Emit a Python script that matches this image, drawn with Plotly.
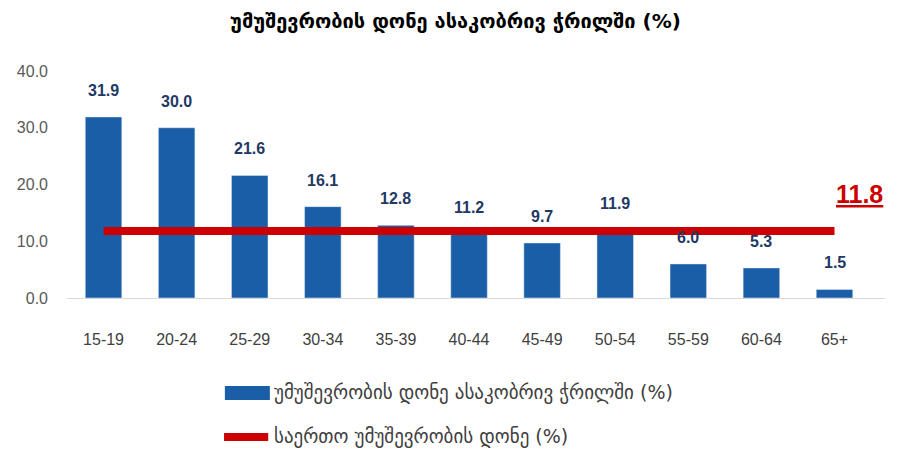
import plotly.graph_objects as go

# Daten
age_groups = ["15-19", "20-24", "25-29", "30-34", "35-39", "40-44",
              "45-49", "50-54", "55-59", "60-64", "65+"]
rates = [31.9, 30.0, 21.6, 16.1, 12.8, 11.2, 9.7, 11.9, 6.0, 5.3, 1.5]
overall_rate = 11.8

title_text = "უმუშევრობის დონე ასაკობრივ ჭრილში (%)"
bar_name = "უმუშევრობის დონე ასაკობრივ ჭრილში (%)"
line_name = "საერთო უმუშევრობის დონე (%)"

bar_color = "#1b5ea8"
red = "#cc0000"
geo_font = "DejaVu Sans"
num_font = "Liberation Sans, Arial, sans-serif"

fig = go.Figure()

fig.add_bar(x=age_groups, y=rates, name=bar_name, marker_color=bar_color,
            width=0.5, showlegend=False)

fig.add_scatter(x=age_groups, y=[overall_rate] * len(age_groups), mode="lines",
                name=line_name, line=dict(color=red, width=8), showlegend=False)

# Werte über den Balken
for cat, val in zip(age_groups, rates):
    fig.add_annotation(x=cat, y=val, text=f"<b>{val:.1f}</b>", showarrow=False,
                       yanchor="bottom", yshift=16,
                       font=dict(family=num_font, size=16, color="#1f3864"))

# Gesamtwert rechts
fig.add_annotation(x=age_groups[-1], y=overall_rate, text=f"<u><b>{overall_rate:.1f}</b></u>",
                   showarrow=False, xshift=25, yshift=37,
                   font=dict(family=num_font, size=25, color=red))

# Legende von Hand (Symbole wie im Original)
fig.add_shape(type="rect", xref="paper", yref="paper",
              x0=0.193, x1=0.248, y0=-0.449, y1=-0.388,
              fillcolor=bar_color, line=dict(width=0))
fig.add_shape(type="line", xref="paper", yref="paper",
              x0=0.192, x1=0.246, y0=-0.612, y1=-0.612,
              line=dict(color=red, width=8))
fig.add_annotation(xref="paper", yref="paper", x=0.251, y=-0.418, text=bar_name,
                   showarrow=False, xanchor="left", yanchor="middle",
                   font=dict(family=geo_font, size=19, color="#404040"))
fig.add_annotation(xref="paper", yref="paper", x=0.251, y=-0.612, text=line_name,
                   showarrow=False, xanchor="left", yanchor="middle",
                   font=dict(family=geo_font, size=19, color="#404040"))

# Seite hat 8px Rand -> Figur etwas kleiner
fig.update_layout(
    width=895, height=448,
    margin=dict(l=59, r=18, t=63, b=158),
    paper_bgcolor="white", plot_bgcolor="white",
    title=dict(text=f"<b>{title_text}</b>", x=0.5, xanchor="center", y=0.97,
               yanchor="middle", font=dict(family=geo_font, size=20, color="#000000")),
    bargap=0.5,
)
fig.update_xaxes(showline=True, linecolor="#d9d9d9", linewidth=1, showgrid=False,
                 ticks="", ticklabelstandoff=27, automargin=False,
                 tickfont=dict(family=num_font, size=16, color="#404040"))
fig.update_yaxes(range=[0, 40], dtick=10, tickformat=".1f", showgrid=False,
                 zeroline=False, showline=False, ticks="", ticklabelstandoff=18,
                 automargin=False,
                 tickfont=dict(family=num_font, size=16, color="#595959"))

fig.write_html("out.html")
